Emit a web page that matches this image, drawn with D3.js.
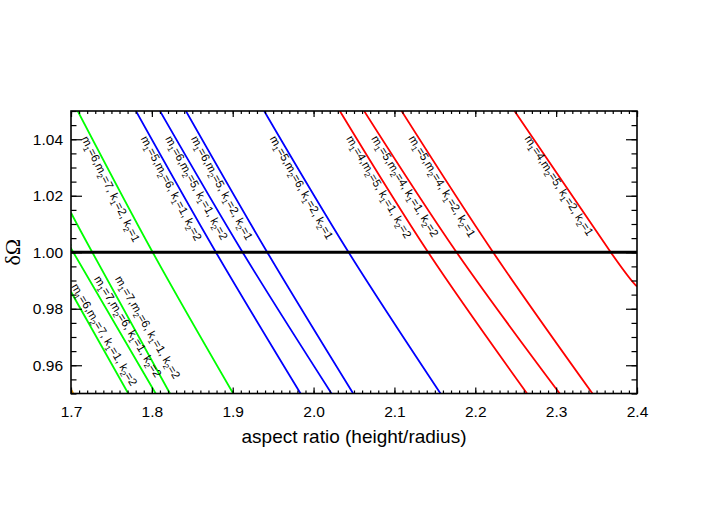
<!DOCTYPE html>
<html>
<head>
<meta charset="utf-8">
<title>delta Omega vs aspect ratio</title>
<script src="https://cdn.jsdelivr.net/npm/d3@7"></script>
<style>
body { margin: 0; background: #fff; }
.axis text { font: 15.5px "Liberation Sans", Arial, sans-serif; fill: #000; }
.axis line { stroke: #000; stroke-width: 1.2; }
.axis path { display: none; }
.lbl { font: 11.5px "Liberation Sans", Arial, sans-serif; fill: #000; }
.curve { fill: none; stroke-width: 1.8; }
</style>
</head>
<body>
<script>

var lineAspect = [
  [1.7083, 1.8010, 1.9006],   // m1=6,m2=7,k1=2,k2=1
  [1.7000, 1.7263, 1.8224],   // m1=7,m2=6,k1=1,k2=2
  [1.7000, 1.7028, 1.8047],   // m1=7,m2=6,k1=1,k2=2
  [1.7000, 1.7708],           // m1=6,m2=7,k1=1,k2=2
  [1.7803, 1.8792, 1.9839],   // m1=5,m2=6,k1=1,k2=2
  [1.8100, 1.9122, 2.0222],   // m1=6,m2=5,k1=1,k2=2
  [1.8421, 1.9427, 2.0490],   // m1=6,m2=5,k1=2,k2=1
  [1.9389, 2.0433, 2.1570],   // m1=5,m2=6,k1=2,k2=1
  [2.0325, 2.1417, 2.2640],   // m1=4,m2=5,k1=1,k2=2
  [2.0625, 2.1768, 2.3044],   // m1=5,m2=4,k1=1,k2=2
  [2.1088, 2.2220, 2.3449],   // m1=5,m2=4,k1=2,k2=1
  [2.2485, 2.3675, 2.4000]    // m1=4,m2=5,k1=2,k2=1
];
var lineOmega = [
  [1.05, 1.00, 0.95],
  [1.014, 1.00, 0.95],
  [1.0023, 1.00, 0.95],
  [0.986, 0.95],
  [1.05, 1.00, 0.95],
  [1.05, 1.00, 0.95],
  [1.05, 1.00, 0.95],
  [1.05, 1.00, 0.95],
  [1.05, 1.00, 0.95],
  [1.05, 1.00, 0.95],
  [1.05, 1.00, 0.95],
  [1.05, 1.00, 0.9879]
];
// 0 = green, 1 = blue, 2 = red
var lineGroup = [0, 0, 0, 0, 1, 1, 1, 1, 2, 2, 2, 2];
// m1, m2, k1, k2 for the label of each curve
var lineQuantum = [
  [6, 7, 2, 1], [7, 6, 1, 2], [7, 6, 1, 2], [6, 7, 1, 2],
  [5, 6, 1, 2], [6, 5, 1, 2], [6, 5, 2, 1], [5, 6, 2, 1],
  [4, 5, 1, 2], [5, 4, 1, 2], [5, 4, 2, 1], [4, 5, 2, 1]
];
// little orange piece in the bottom left corner
var orangeAspect = [1.7000, 1.7028];
var orangeOmega = [0.9515, 0.95];

var xTicks = [1.7, 1.8, 1.9, 2.0, 2.1, 2.2, 2.3, 2.4];
var yTicks = [0.96, 0.98, 1.00, 1.02, 1.04];
var refOmega = 1.00;

var groupColor = ["#00ff00", "#0000ff", "#ff0000"];

var W = 708, H = 506;
var pLeft = 71, pRight = 637, pTop = 111, pBottom = 393.5;

var x = d3.scaleLinear().domain([1.7, 2.4]).range([pLeft, pRight]);
var y = d3.scaleLinear().domain([0.95, 1.05]).range([pBottom, pTop]);

var svg = d3.select("body").append("svg")
    .attr("width", W)
    .attr("height", H);

svg.append("defs").append("clipPath").attr("id", "plotclip")
  .append("rect")
    .attr("x", pLeft).attr("y", pTop)
    .attr("width", pRight - pLeft).attr("height", pBottom - pTop);

var plot = svg.append("g").attr("clip-path", "url(#plotclip)");

var line = d3.line()
    .x(function(d) { return x(d[0]); })
    .y(function(d) { return y(d[1]); })
    .curve(d3.curveNatural);

lineAspect.forEach(function(a, i) {
  var pts = a.map(function(v, j) { return [v, lineOmega[i][j]]; });
  plot.append("path")
      .attr("class", "curve")
      .attr("stroke", groupColor[lineGroup[i]])
      .attr("d", line(pts));
});

plot.append("path")
    .attr("class", "curve")
    .attr("stroke", "#ffa500")
    .attr("d", line(orangeAspect.map(function(v, j) { return [v, orangeOmega[j]]; })));

// thick reference line at 1.00
plot.append("line")
    .attr("x1", pLeft).attr("x2", pRight)
    .attr("y1", y(refOmega)).attr("y2", y(refOmega))
    .attr("stroke", "#000")
    .attr("stroke-width", 3.2);

// axes, ticks pointing inside
var xMinor = d3.range(170, 241).map(function(v) { return v / 100; });
var yMinor = d3.range(190, 211).map(function(v) { return v / 200; });

svg.append("g").attr("class", "axis")
    .attr("transform", "translate(0," + pBottom + ")")
    .call(d3.axisBottom(x).tickValues(xMinor).tickSize(-3).tickFormat(""));
svg.append("g").attr("class", "axis")
    .attr("transform", "translate(0," + pBottom + ")")
    .call(d3.axisBottom(x).tickValues(xTicks).tickSize(-6).tickPadding(12).tickFormat(d3.format(".1f")));
svg.append("g").attr("class", "axis")
    .attr("transform", "translate(0," + pTop + ")")
    .call(d3.axisTop(x).tickValues(xMinor).tickSize(-3).tickFormat(""));
svg.append("g").attr("class", "axis")
    .attr("transform", "translate(0," + pTop + ")")
    .call(d3.axisTop(x).tickValues(xTicks).tickSize(-6).tickFormat(""));

svg.append("g").attr("class", "axis")
    .attr("transform", "translate(" + pLeft + ",0)")
    .call(d3.axisLeft(y).tickValues(yMinor).tickSize(-5.5).tickFormat(""));
svg.append("g").attr("class", "axis")
    .attr("transform", "translate(" + pLeft + ",0)")
    .call(d3.axisLeft(y).tickValues(yTicks).tickSize(-11).tickPadding(8).tickFormat(d3.format(".2f")));
svg.append("g").attr("class", "axis")
    .attr("transform", "translate(" + pRight + ",0)")
    .call(d3.axisRight(y).tickValues(yMinor).tickSize(-5.5).tickFormat(""));
svg.append("g").attr("class", "axis")
    .attr("transform", "translate(" + pRight + ",0)")
    .call(d3.axisRight(y).tickValues(yTicks).tickSize(-11).tickFormat(""));

svg.append("rect")
    .attr("x", pLeft).attr("y", pTop)
    .attr("width", pRight - pLeft).attr("height", pBottom - pTop)
    .attr("fill", "none")
    .attr("stroke", "#000")
    .attr("stroke-width", 1.6);

svg.append("text")
    .attr("x", (pLeft + pRight) / 2)
    .attr("y", 443)
    .attr("text-anchor", "middle")
    .style("font", "19px 'Liberation Sans', Arial, sans-serif")
    .text("aspect ratio (height/radius)");

svg.append("text")
    .attr("transform", "translate(20," + y(refOmega) + ") rotate(-90)")
    .attr("text-anchor", "middle")
    .style("font", "22px 'Liberation Serif', 'Times New Roman', serif")
    .text("δΩ");

// curve labels: where the text starts (deltaOmega), side of the curve, tilt
var labelOmega = [1.0403, 0.9906, 0.9906, 0.9879, 1.0403, 1.0403, 1.0403, 1.0403, 1.0403, 1.0403, 1.0403, 1.0403];
var labelShift = [-11, 8, 5, 3, -11, -11, -11, -11, -11, -11, -11, -9];
var labelTilt = [1.5, -1.5, -1.5, -1.5, 1.5, 1.5, 1.5, 1.5, 1.5, 1.5, 1.5, 1.5];

function addLabel(i) {
  var px = lineAspect[i].map(x), py = lineOmega[i].map(y);
  var y0 = y(labelOmega[i]);
  var j = 0;
  while (j < py.length - 2 && py[j + 1] < y0) j++;
  var t = (y0 - py[j]) / (py[j + 1] - py[j]);
  var x0 = px[j] + t * (px[j + 1] - px[j]);
  var ang = Math.atan2(py[j + 1] - py[j], px[j + 1] - px[j]) * 180 / Math.PI + labelTilt[i];
  var q = lineQuantum[i];
  var parts = [
    ["m", 0], ["1", 1], ["=" + q[0] + ",m", 0], ["2", 1],
    ["=" + q[1] + ", k", 0], ["1", 1], ["=" + q[2] + ", k", 0], ["2", 1], ["=" + q[3], 0]
  ];
  var txt = svg.append("text")
      .attr("class", "lbl")
      .attr("transform", "translate(" + (x0 + labelShift[i]) + "," + y0 + ") rotate(" + ang + ")");
  var prevSub = 0;
  parts.forEach(function(p) {
    var ts = txt.append("tspan").text(p[0]);
    if (p[1]) ts.style("font-size", "8px");
    var dy = (p[1] - prevSub) * 3;
    if (dy) ts.attr("dy", dy);
    prevSub = p[1];
  });
}

lineAspect.forEach(function(a, i) { addLabel(i); });

</script>
</body>
</html>
